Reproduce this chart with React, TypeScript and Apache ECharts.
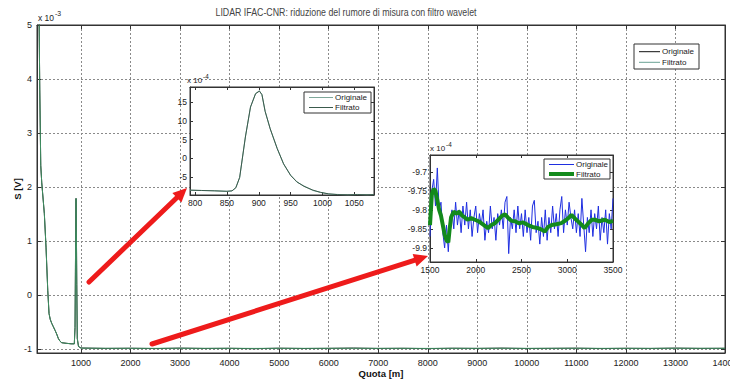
import { useEffect, useRef } from 'react';
import * as echarts from 'echarts';

const FONT = '"Liberation Sans", Arial, sans-serif';
const INK = '#333';

// Full profile, S in units of 1e-3 V, quota in metres
const profileQuota = [150, 168, 188, 208, 260, 294, 329, 355, 380, 409, 440, 476, 510, 542, 575, 611, 700, 800, 865, 880, 893, 900, 907, 915, 925, 950];
const profileSignal = [5.5, 3.8, 2.4, 2.08, 1.51, 0.89, 0.09, -0.34, -0.45, -0.52, -0.58, -0.65, -0.72, -0.8, -0.85, -0.88, -0.89, -0.9, -0.9, -0.6, 1.2, 1.79, 1.2, 0.2, -0.8, -0.95];

const baselineQuota = [1000, 1500, 2000, 2500, 3000, 3500, 4000, 4500, 5000, 5500, 6000, 6500, 7000, 7500, 8000, 8500, 9000, 9500, 10000, 10500, 11000, 11500, 12000, 12500, 13000, 13500, 14000];
const baselineOrig = [-0.978, -0.985, -0.982, -0.988, -0.98, -0.986, -0.983, -0.99, -0.981, -0.987, -0.984, -0.979, -0.986, -0.983, -0.989, -0.982, -0.985, -0.98, -0.987, -0.984, -0.981, -0.988, -0.983, -0.986, -0.98, -0.985, -0.983];
const baselineFilt = [-0.98, -0.983, -0.983, -0.984, -0.982, -0.984, -0.983, -0.985, -0.983, -0.984, -0.983, -0.982, -0.984, -0.983, -0.985, -0.983, -0.984, -0.982, -0.984, -0.983, -0.982, -0.984, -0.983, -0.984, -0.982, -0.983, -0.983];

// Zoom on the 900 m echo, S in units of 1e-4 V
const peakQuota = [792, 810, 830, 850, 858, 864, 870, 879, 887, 895, 901, 905, 910, 918, 929, 939, 950, 960, 971, 985, 997, 1010, 1024, 1040, 1055, 1070, 1081];
const peakOrig = [-8.45, -8.5, -8.55, -8.75, -8.6, -7.7, -5.1, 5.8, 13.6, 17.3, 18.0, 16.9, 12.6, 7.8, 2.7, -1.5, -4.4, -6.3, -7.3, -8.5, -9.0, -9.45, -9.55, -9.7, -9.55, -9.7, -9.6];
const peakFilt = [-8.4, -8.5, -8.6, -8.7, -8.6, -7.8, -5.0, 5.7, 13.7, 17.2, 17.9, 17.0, 12.5, 7.9, 2.6, -1.4, -4.5, -6.2, -7.4, -8.4, -9.0, -9.4, -9.6, -9.65, -9.6, -9.65, -9.6];

// Zoom on the far-range noise floor, S in units of 1e-4 V
const noiseOrig: [number, number][] = [
  [1500, -9.87], [1520, -9.75], [1540, -9.72], [1560, -9.79], [1580, -9.69], [1600, -9.8], [1620, -9.78], [1640, -9.86],
  [1660, -9.9], [1680, -9.84], [1700, -9.91], [1720, -9.83], [1740, -9.8], [1760, -9.85], [1780, -9.78], [1800, -9.84],
  [1820, -9.8], [1840, -9.86], [1860, -9.79], [1880, -9.84], [1900, -9.78], [1920, -9.85], [1940, -9.8], [1960, -9.87],
  [1980, -9.82], [2000, -9.79], [2020, -9.86], [2040, -9.81], [2060, -9.84], [2080, -9.8], [2100, -9.88], [2120, -9.83],
  [2140, -9.86], [2160, -9.79], [2180, -9.85], [2200, -9.82], [2220, -9.88], [2240, -9.81], [2260, -9.84], [2280, -9.8],
  [2300, -9.85], [2320, -9.78], [2340, -9.765], [2360, -9.915], [2380, -9.82], [2400, -9.85], [2420, -9.8], [2440, -9.86],
  [2460, -9.79], [2480, -9.85], [2500, -9.81], [2520, -9.87], [2540, -9.8], [2560, -9.86], [2580, -9.82], [2600, -9.88],
  [2620, -9.79], [2640, -9.775], [2660, -9.86], [2680, -9.83], [2700, -9.89], [2720, -9.82], [2740, -9.87], [2760, -9.8],
  [2780, -9.88], [2800, -9.82], [2820, -9.86], [2840, -9.79], [2860, -9.85], [2880, -9.81], [2900, -9.87], [2920, -9.8],
  [2940, -9.765], [2960, -9.86], [2980, -9.8], [3000, -9.84], [3020, -9.78], [3040, -9.82], [3060, -9.85], [3080, -9.8],
  [3100, -9.86], [3120, -9.81], [3140, -9.87], [3160, -9.77], [3180, -9.84], [3200, -9.91], [3220, -9.82], [3240, -9.86],
  [3260, -9.8], [3280, -9.87], [3300, -9.81], [3320, -9.85], [3340, -9.79], [3360, -9.88], [3380, -9.82], [3400, -9.86],
  [3420, -9.8], [3440, -9.89], [3460, -9.81], [3480, -9.85], [3500, -9.77],
];
const noiseFilt: [number, number][] = [
  [1500, -9.84], [1520, -9.76], [1540, -9.745], [1560, -9.75], [1580, -9.775], [1600, -9.8], [1620, -9.815], [1640, -9.84],
  [1660, -9.865], [1680, -9.88], [1700, -9.885], [1715, -9.85], [1730, -9.82], [1760, -9.805], [1790, -9.81], [1820, -9.805],
  [1850, -9.815], [1880, -9.82], [1910, -9.826], [1950, -9.822], [1990, -9.826], [2030, -9.83], [2060, -9.835], [2100, -9.842],
  [2135, -9.848], [2170, -9.84], [2210, -9.835], [2250, -9.825], [2290, -9.815], [2320, -9.812], [2350, -9.82], [2390, -9.829],
  [2430, -9.83], [2470, -9.835], [2520, -9.833], [2570, -9.84], [2620, -9.845], [2680, -9.848], [2720, -9.852], [2755, -9.857],
  [2790, -9.845], [2830, -9.84], [2880, -9.838], [2935, -9.835], [2980, -9.828], [3020, -9.82], [3045, -9.813], [3080, -9.822],
  [3120, -9.831], [3160, -9.84], [3190, -9.848], [3230, -9.835], [3270, -9.826], [3300, -9.826], [3350, -9.83], [3410, -9.826],
  [3460, -9.832], [3500, -9.829],
];

const legendLabels = ['Originale', 'Filtrato'];

const zip = (xs: number[], ys: number[]) => xs.map((x, i) => [x, ys[i]]);
const plain = (v: number) => String(+v.toFixed(3));

type Range = { min: number; max: number; splitNumber?: number; interval?: number };
type Ends = { minLabel: boolean; maxLabel: boolean };

function axisPair(gridIndex: number, r: Range, dim: 'x' | 'y', ends: Ends, fontSize: number, z: number, withGrid: boolean) {
  const line = { show: true, onZero: false, lineStyle: { color: INK, width: 1 } };
  const tick = { show: true, inside: true, length: withGrid ? 4 : 3, lineStyle: { color: INK } };
  const split = { show: withGrid, lineStyle: { type: [2, 2], color: '#8a8a8a', width: 1 } };
  const base = { type: 'value', gridIndex, z, axisLine: line, axisTick: tick, ...r };
  const near = dim === 'x' ? 'bottom' : 'left';
  const far = dim === 'x' ? 'top' : 'right';
  return [
    {
      ...base, position: near, splitLine: split,
      axisLabel: {
        color: '#222', fontSize, fontFamily: FONT, formatter: plain,
        showMinLabel: ends.minLabel, showMaxLabel: ends.maxLabel,
        margin: withGrid ? 5 : 3,
      },
    },
    { ...base, position: far, axisLabel: { show: false }, splitLine: { show: false } },
  ];
}

function arrow(x1: number, y1: number, x2: number, y2: number) {
  const dx = x2 - x1;
  const dy = y2 - y1;
  const len = Math.hypot(dx, dy);
  const ux = dx / len;
  const uy = dy / len;
  const head = 14;
  const half = 6.5;
  const bx = x2 - ux * head;
  const by = y2 - uy * head;
  const red = '#ee1b1b';
  return [
    { type: 'line', z: 20, shape: { x1, y1, x2: bx + ux * 2, y2: by + uy * 2 }, style: { stroke: red, lineWidth: 5, lineCap: 'round' } },
    {
      type: 'polygon', z: 20,
      shape: { points: [[x2, y2], [bx - uy * half, by + ux * half], [bx + uy * half, by - ux * half]] },
      style: { fill: red },
    },
  ];
}

function exponent(x: number, y: number, power: string, size: number) {
  return [
    { type: 'text', z: 20, x, y, style: { text: 'x 10', fontSize: size, fontFamily: FONT, fill: '#222', verticalAlign: 'middle' } },
    { type: 'text', z: 20, x: x + size * 2.0, y: y - size * 0.5, style: { text: power, fontSize: size * 0.8, fontFamily: FONT, fill: '#222', verticalAlign: 'middle' } },
  ];
}

// Boxed legend: a short line sample followed by its label, one row per series
function legendBox(x: number, y: number, w: number, h: number, rows: { y: number; color: string; width: number }[], lineLen: number) {
  const els: any[] = [
    { type: 'rect', z: 22, shape: { x, y, width: w, height: h }, style: { fill: '#fff', stroke: INK, lineWidth: 1 } },
  ];
  rows.forEach((r, i) => {
    els.push({ type: 'line', z: 23, shape: { x1: x + 5, y1: r.y, x2: x + 5 + lineLen, y2: r.y }, style: { stroke: r.color, lineWidth: r.width } });
    els.push({
      type: 'text', z: 23, x: x + 7 + lineLen, y: r.y,
      style: { text: legendLabels[i], fontSize: 8, fontFamily: FONT, fill: '#222', verticalAlign: 'middle' },
    });
  });
  return els;
}

const C = {
  mainOrig: '#111', mainFilt: '#3f8f62',
  peakOrig: '#7fa89a', peakFilt: '#3a5a4c',
  noiseOrig: '#1f2fe0', noiseFilt: '#138a1c',
};

export default function App() {
  const ref = useRef<HTMLDivElement>(null);

  useEffect(() => {
    if (!ref.current) return;
    const chart = echarts.init(ref.current, undefined, { renderer: 'svg' });

    const mainX = axisPair(0, { min: 112, max: 14000, splitNumber: 14 }, 'x', { minLabel: false, maxLabel: true }, 9, 0, true);
    const mainY = axisPair(0, { min: -1.07, max: 5, splitNumber: 6 }, 'y', { minLabel: false, maxLabel: true }, 9, 0, true);
    const peakX = axisPair(1, { min: 792, max: 1081, splitNumber: 6 }, 'x', { minLabel: false, maxLabel: false }, 8.5, 6, false);
    const peakY = axisPair(1, { min: -9.7, max: 19, splitNumber: 6 }, 'y', { minLabel: false, maxLabel: false }, 8.5, 6, false);
    const noiseX = axisPair(2, { min: 1500, max: 3500, interval: 500 }, 'x', { minLabel: true, maxLabel: true }, 8.5, 6, false);
    const noiseY = axisPair(2, { min: -9.937, max: -9.656, splitNumber: 6 }, 'y', { minLabel: false, maxLabel: false }, 8.5, 6, false);

    Object.assign(mainX[0], {
      name: 'Quota [m]', nameLocation: 'middle', nameGap: 15, nameMoveOverlap: false,
      nameTextStyle: { fontWeight: 'bold', fontSize: 9.5, fontFamily: FONT, color: '#111' },
    });
    Object.assign(mainY[0], {
      name: 'S [V]', nameLocation: 'middle', nameGap: 15, nameRotate: 90, nameMoveOverlap: false,
      nameTextStyle: { fontWeight: 'bold', fontSize: 9.5, fontFamily: FONT, color: '#111' },
    });

    const lineSeries = (name: string, data: number[][], axis: number, color: string, width: number, z: number) => ({
      type: 'line', name, data, xAxisIndex: axis, yAxisIndex: axis, z,
      symbol: 'none', showSymbol: false, clip: true,
      lineStyle: { color, width }, itemStyle: { color },
    });

    const mainOrig = zip(profileQuota, profileSignal).concat(zip(baselineQuota, baselineOrig));
    const mainFilt = zip(profileQuota, profileSignal).concat(zip(baselineQuota, baselineFilt));

    const gridBox = { show: true, backgroundColor: '#fff', borderColor: INK, borderWidth: 1, outerBoundsMode: 'none', containLabel: false };

    chart.setOption({
      animation: false,
      backgroundColor: '#fff',
      textStyle: { fontFamily: FONT },
      grid: [
        { ...gridBox, left: 37, top: 25, width: 688, height: 328 },
        { ...gridBox, left: 190, top: 87, width: 184, height: 108, z: 5 },
        { ...gridBox, left: 430, top: 155, width: 183, height: 107, z: 5 },
      ],
      xAxis: [...mainX, ...peakX, ...noiseX],
      yAxis: [...mainY, ...peakY, ...noiseY],
      series: [
        lineSeries('Originale', mainOrig, 0, C.mainOrig, 1, 2),
        lineSeries('Filtrato', mainFilt, 0, C.mainFilt, 1, 3),
        lineSeries('Originale', zip(peakQuota, peakOrig), 2, C.peakOrig, 1, 7),
        lineSeries('Filtrato', zip(peakQuota, peakFilt), 2, C.peakFilt, 1, 8),
        lineSeries('Originale', noiseOrig, 4, C.noiseOrig, 1, 7),
        lineSeries('Filtrato', noiseFilt, 4, C.noiseFilt, 4, 8),
      ],
      graphic: [
        {
          type: 'text', z: 20, x: 346, y: 12, scaleX: 0.8,
          style: {
            text: 'LIDAR IFAC-CNR: riduzione del rumore di misura con filtro wavelet',
            fontSize: 11, fontFamily: FONT, fill: '#444', align: 'center', verticalAlign: 'middle',
          },
        },
        ...exponent(38, 18, '-3', 8.5),
        ...exponent(187, 80, '-4', 8),
        ...exponent(430, 148, '-4', 8),
        ...arrow(89, 282, 187, 188),
        ...arrow(152, 344, 428, 256),
        ...legendBox(634, 44, 65, 25, [{ y: 51.7, color: C.mainOrig, width: 1 }, { y: 62.3, color: '#6aa294', width: 1 }], 21),
        ...legendBox(304, 92, 67, 21, [{ y: 97.5, color: C.peakOrig, width: 1 }, { y: 107.5, color: C.peakFilt, width: 1 }], 24),
        ...legendBox(544, 159, 66, 20, [{ y: 164.5, color: C.noiseOrig, width: 1 }, { y: 174, color: C.noiseFilt, width: 4 }], 25),
      ],
    });

    return () => chart.dispose();
  }, []);

  return <div ref={ref} style={{ position: 'absolute', left: 0, top: 0, width: 730, height: 380 }} />;
}
